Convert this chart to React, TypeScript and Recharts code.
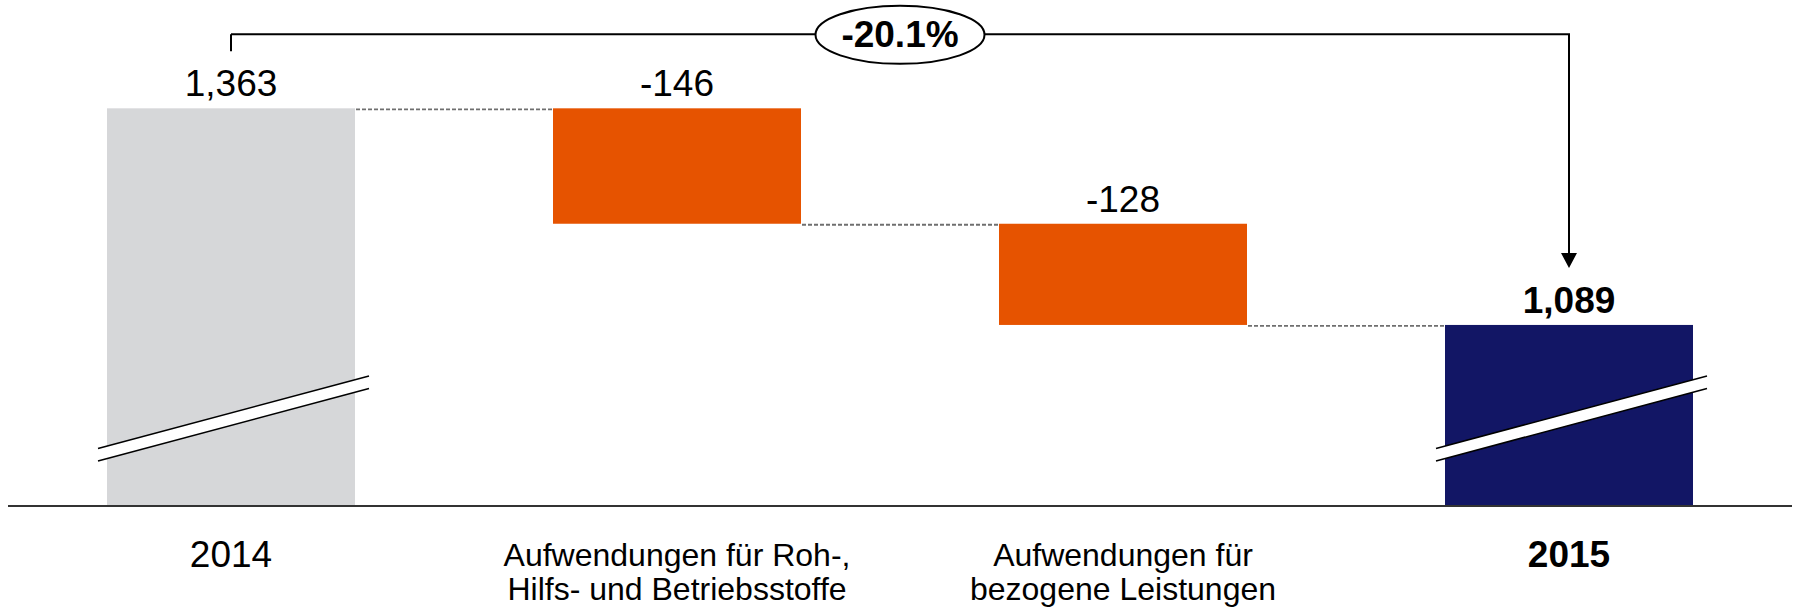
import { BarChart, Bar, XAxis, YAxis, LabelList } from "recharts";

// Materialaufwand 2014 -> 2015, waterfall
const categories = ["2014", "Roh-, Hilfs- und Betriebsstoffe", "bezogene Leistungen", "2015"];
const categoryLines = [
  ["2014"],
  ["Aufwendungen für Roh-,", "Hilfs- und Betriebsstoffe"],
  ["Aufwendungen für", "bezogene Leistungen"],
  ["2015"],
];
const values = [1363, -146, -128, 1089];
const kinds = ["total", "delta", "delta", "total"];

const barColors = ["#d6d7d9", "#e65300", "#e65300", "#121665"];
const AXIS_MIN = 860; // axis is cut (break marks on the total bars)
const AXIS_MAX = 1500;
const GAP = 99; // barCategoryGap in px
const FONT = "'Liberation Sans', Arial, Helvetica, sans-serif";

let level = 0;
const data = categories.map((name, i) => {
  const v = values[i];
  let range: number[];
  if (kinds[i] === "delta") {
    range = [Math.min(level, level + v), Math.max(level, level + v)];
    level = level + v;
  } else {
    range = [0, v];
    level = v;
  }
  return { name, range, end: level, kind: kinds[i] };
});

const last = data.length - 1;
const change = ((values[last] - values[0]) / values[0]) * 100;
const changeText = `${change.toFixed(1)}%`;

function WaterfallBar(props: any) {
  const { x, y, width, height, index, payload } = props;
  const [lo, hi] = payload.range;
  const k = height / (hi - lo);
  const sy = (v: number) => y + (hi - v) * k;
  const floor = sy(AXIS_MIN);
  const bottom = Math.min(y + height, floor);
  const cx = x + width / 2;
  const step = width + 2 * GAP;
  const isTotal = payload.kind === "total";
  const bracketY = sy(values[0]) - 74;

  return (
    <g>
      <rect x={x} y={y} width={width} height={bottom - y} fill={barColors[index]} />

      {/* axis break */}
      {isTotal && (
        <g>
          <polygon
            points={`${x - 9},${floor - 57.5} ${x + width + 14},${floor - 130} ${x + width + 14},${floor - 117.5} ${x - 9},${floor - 45}`}
            fill="#fff"
          />
          <line x1={x - 9} y1={floor - 57.5} x2={x + width + 14} y2={floor - 130} stroke="#000" strokeWidth={1.6} />
          <line x1={x - 9} y1={floor - 45} x2={x + width + 14} y2={floor - 117.5} stroke="#000" strokeWidth={1.6} />
        </g>
      )}

      {/* connector to next bar */}
      {index < last && (
        <line
          x1={x + width + 1}
          x2={x + step - 1}
          y1={sy(payload.end) + 1}
          y2={sy(payload.end) + 1}
          stroke="#6f6f6f"
          strokeWidth={1.8}
          strokeDasharray="4 2"
        />
      )}

      {/* bracket */}
      {index === 0 && (
        <line x1={cx} x2={cx} y1={bracketY} y2={y - 57} stroke="#000" strokeWidth={2} />
      )}
      {index === last && (
        <g>
          <line x1={cx - index * step} x2={cx + 1} y1={bracketY} y2={bracketY} stroke="#000" strokeWidth={2} />
          <line x1={cx} x2={cx} y1={bracketY} y2={y - 70} stroke="#000" strokeWidth={2} />
          <polygon points={`${cx - 8},${y - 72} ${cx + 8},${y - 72} ${cx},${y - 57}`} fill="#000" />
          <ellipse
            cx={cx - (index * step) / 2}
            cy={bracketY + 0.5}
            rx={84.5}
            ry={29}
            fill="#fff"
            stroke="#000"
            strokeWidth={2}
          />
          <text
            x={cx - (index * step) / 2}
            y={bracketY + 12.5}
            textAnchor="middle"
            fontFamily={FONT}
            fontSize={37}
            fontWeight={700}
            fill="#000"
          >
            {changeText}
          </text>
        </g>
      )}
    </g>
  );
}

function ValueLabel(props: any) {
  const { x, y, width, index } = props;
  const v = values[index];
  const text = kinds[index] === "total" ? v.toLocaleString("en-US") : String(v);
  return (
    <text
      x={x + width / 2}
      y={y - 12}
      textAnchor="middle"
      fontFamily={FONT}
      fontSize={37}
      fontWeight={index === last ? 700 : 400}
      fill="#000"
    >
      {text}
    </text>
  );
}

function CategoryTick(props: any) {
  const { x, y, payload } = props;
  const i = categories.indexOf(payload.value);
  const lines = categoryLines[i];
  if (lines.length === 1) {
    return (
      <text
        x={x}
        y={y + 61}
        textAnchor="middle"
        fontFamily={FONT}
        fontSize={37}
        fontWeight={i === last ? 700 : 400}
        fill="#000"
      >
        {lines[0]}
      </text>
    );
  }
  return (
    <text textAnchor="middle" fontFamily={FONT} fontSize={32} fill="#000">
      {lines.map((l, j) => (
        <tspan key={j} x={x} y={y + 60 + j * 34}>
          {l}
        </tspan>
      ))}
    </text>
  );
}

export default function App() {
  return (
    <div style={{ width: 1801, height: 607, background: "#fff" }}>
      <style>{"body{margin:0}"}</style>
      <BarChart
        width={1801}
        height={607}
        data={data}
        margin={{ top: 0, right: 9, bottom: 0, left: 8 }}
        barCategoryGap={GAP}
      >
        <XAxis
          dataKey="name"
          interval={0}
          height={101}
          tickLine={false}
          tickSize={0}
          tickMargin={0}
          axisLine={{ stroke: "#333", strokeWidth: 2 }}
          tick={<CategoryTick />}
        />
        <YAxis hide domain={[AXIS_MIN, AXIS_MAX]} allowDataOverflow />
        <Bar dataKey="range" shape={<WaterfallBar />} isAnimationActive={false}>
          <LabelList dataKey="range" content={<ValueLabel />} />
        </Bar>
      </BarChart>
    </div>
  );
}
